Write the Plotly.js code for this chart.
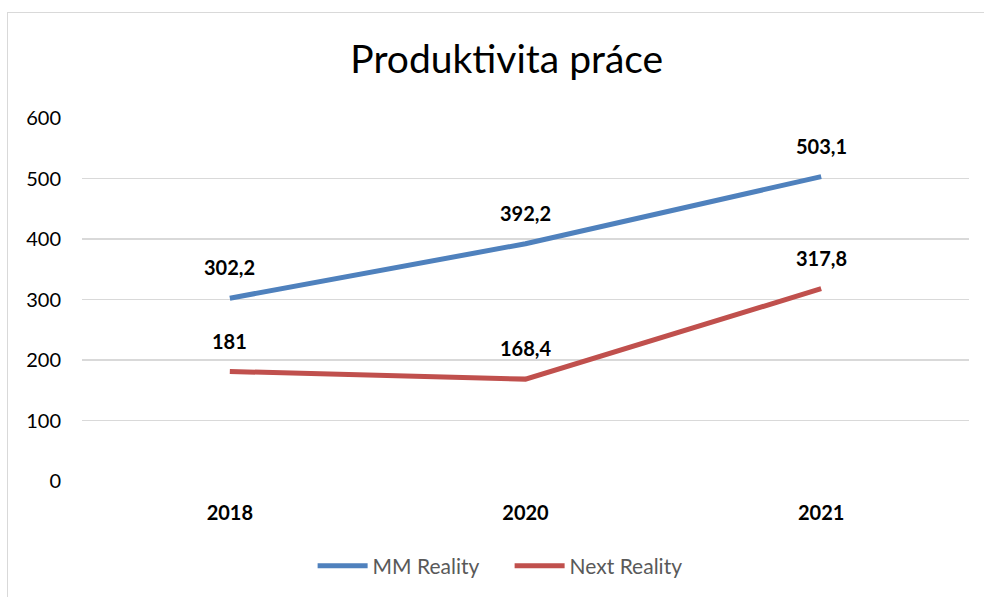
<!DOCTYPE html>
<html>
<head>
<meta charset="utf-8">
<script src="https://cdn.plot.ly/plotly-3.0.1.min.js"></script>
<style>
html,body{margin:0;padding:0;background:#fff;overflow:hidden;}
#chart{width:984px;height:597px;}
#frame{position:absolute;left:7px;top:12px;width:1100px;height:1000px;border:1.5px solid #d9d9d9;pointer-events:none;}
</style>
</head>
<body>
<div id="chart"></div>
<div id="frame"></div>
<script>
const categories = ['2018', '2020', '2021'];
const mmReality = [302.2, 392.2, 503.1];
const nextReality = [181, 168.4, 317.8];
const seriesNames = ['MM Reality', 'Next Reality'];
const yTicks = [0, 100, 200, 300, 400, 500, 600];

const FONT = 'Lato, "Open Sans", sans-serif';
const fmt = v => String(v).replace('.', ',');

const traces = [
  {x: categories, y: mmReality, name: seriesNames[0], type: 'scatter', mode: 'lines',
   line: {color: '#4F81BD', width: 5}},
  {x: categories, y: nextReality, name: seriesNames[1], type: 'scatter', mode: 'lines',
   line: {color: '#C0504D', width: 5}}
];

const annotations = [];
[mmReality, nextReality].forEach(series => {
  series.forEach((v, i) => {
    annotations.push({x: i, y: v, xref: 'x', yref: 'y', text: '<b>' + fmt(v) + '</b>', showarrow: false,
      yshift: 31, font: {family: FONT, size: 20, color: '#000'}});
  });
});

const layout = {
  width: 984, height: 597,
  margin: {l: 82, r: 15, t: 118, b: 115},
  paper_bgcolor: '#fff', plot_bgcolor: '#fff',
  title: {text: 'Produktivita práce', x: 0.515, xanchor: 'center', y: 0.9, yanchor: 'middle',
    font: {family: FONT, size: 39, color: '#000'}},
  xaxis: {type: 'category', range: [-0.5, 2.5], showgrid: false, zeroline: false,
    showline: false, ticks: '', ticklabelstandoff: 18,
    tickfont: {family: FONT, size: 20, color: '#000', weight: 'bold'}},
  yaxis: {range: [0, 600], tickvals: yTicks, showgrid: true, gridcolor: '#d9d9d9', gridwidth: 1.5,
    zeroline: false, showline: false, ticks: '', ticklabelstandoff: 20,
    tickfont: {family: FONT, size: 20, color: '#000'}},
  showlegend: true,
  legend: {orientation: 'h', x: 0.26, xanchor: 'left', y: -0.231, yanchor: 'middle',
    entrywidth: 132, entrywidthmode: 'pixels',
    font: {family: FONT, size: 21, color: '#595959'}, itemwidth: 50, traceorder: 'normal'},
  annotations: annotations
};

Plotly.newPlot('chart', traces, layout, {displayModeBar: false, staticPlot: true});
</script>
</body>
</html>
